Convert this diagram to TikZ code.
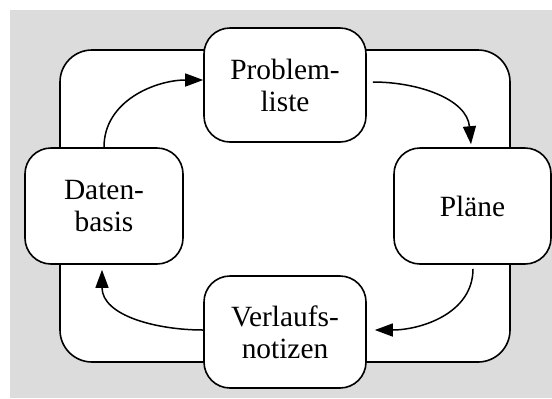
\documentclass[tikz,border=0pt]{standalone}
\usepackage{fontspec}
\setmainfont{Liberation Serif}
\usetikzlibrary{arrows.meta}
\definecolor{panelgray}{RGB}{220,220,220}
\begin{document}
\begin{tikzpicture}[x=1bp,y=-1bp,
  stage/.style={draw=black, line width=1.6bp, fill=white, rounded corners=26bp,
    align=center, inner sep=0pt, font=\fontsize{29.5}{32}\selectfont},
  flow/.style={line width=1.5bp, -{Triangle[length=18bp,width=13bp]}}]
  \useasboundingbox (0,0) rectangle (552,398);
  % panel background
  \fill[panelgray] (10,10) rectangle (552,398);
  % frame behind the cycle
  \draw[line width=1.6bp, fill=white, rounded corners=32bp] (60,50) rectangle (510,362);
  % stages
  \node[stage, minimum width=162bp, minimum height=114bp] (prob) at (285,85) {Problem-\\liste};
  \node[stage, minimum width=158bp, minimum height=116bp] (daten) at (104,206) {Daten-\\basis};
  \node[stage, minimum width=157bp, minimum height=116bp] (plaene) at (472.5,206) {Pläne};
  \node[stage, minimum width=162bp, minimum height=112bp] (verl) at (285,332) {Verlaufs-\\notizen};
  % cycle arrows
  \draw[flow] (daten.north) to[out=90,in=180] ([yshift=5bp]prob.west);
  \draw[flow] ([xshift=6bp,yshift=3bp]prob.east) to[out=0,in=95] ([xshift=-1.5bp,yshift=3bp]plaene.north);
  \draw[flow] ([xshift=0.5bp,yshift=-4bp]plaene.south) to[out=-90,in=0] ([xshift=8bp,yshift=2bp]verl.east);
  \draw[flow] ([yshift=2bp]verl.west) to[out=180,in=-90] ([xshift=-2bp,yshift=-5bp]daten.south);
\end{tikzpicture}
\end{document}
